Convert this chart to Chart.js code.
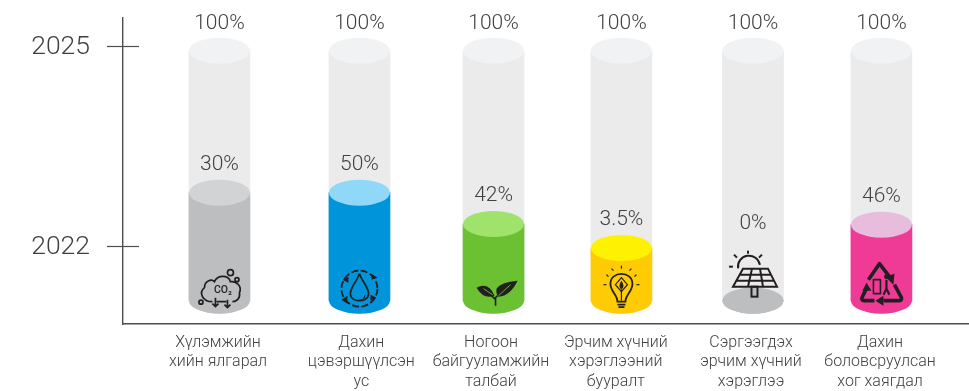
<!DOCTYPE html>
<html>
<head>
<meta charset="utf-8">
<style>
  html, body { margin: 0; padding: 0; background: #fff; }
  canvas { display: block; }
</style>
<script src="https://cdn.jsdelivr.net/npm/chart.js@4"></script>
</head>
<body>
<canvas id="chart" width="969" height="391"></canvas>
<script>
// Data
const categories = [
  ['Хүлэмжийн', 'хийн ялгарал'],
  ['Дахин', 'цэвэршүүлсэн', 'ус'],
  ['Ногоон', 'байгууламжийн', 'талбай'],
  ['Эрчим хүчний', 'хэрэглээний', 'бууралт'],
  ['Сэргээгдэх', 'эрчим хүчний', 'хэрэглээ'],
  ['Дахин', 'боловсруулсан', 'хог хаягдал']
];
const yearTicks = [2022, 2025];
const actualLabels = ['30%', '50%', '42%', '3.5%', '0%', '46%'];
const targetLabels = ['100%', '100%', '100%', '100%', '100%', '100%'];
// fill heights on the year axis (the drawing is not to scale with the percents)
const actualLevels = [2022.8, 2022.8, 2022.33, 2021.97, 2021.18, 2022.32];
const targetLevels = [2024.93, 2024.93, 2024.93, 2024.93, 2024.93, 2024.93];
const cylinderBase = 2021.18;
// columns are not evenly spaced in the original, x axis runs 0..6
const barSlots = [0.684, 1.677, 2.628, 3.535, 4.468, 5.379];
const labelSlots = [0.674, 1.69, 2.61, 3.495, 4.454, 5.369];

const sideColors = ['#bcbec0', '#0095da', '#6cc133', '#ffcb05', '#bcbec0', '#ef3a96'];
const capColors = ['#d1d3d4', '#8fd8f8', '#a0e36c', '#fff200', '#bcbec0', '#e8bcdc'];
const trackSide = '#ebebec';
const trackCap = '#f1f2f3';
const axisColor = '#4d4d4f';
const textColor = '#414042';
const iconColor = '#231f20';
const capHeight = 13;

// Icons, drawn around (0,0) = middle of the cylinder base
function strokeCircle(ctx, x, y, r) {
  ctx.beginPath();
  ctx.arc(x, y, r, 0, Math.PI * 2);
  ctx.stroke();
}

function fillTriangle(ctx, t) {
  ctx.beginPath();
  ctx.moveTo(t[0], t[1]);
  ctx.lineTo(t[2], t[3]);
  ctx.lineTo(t[4], t[5]);
  ctx.fill();
}

function arrowDown(ctx, x, y1, y2) {
  ctx.beginPath();
  ctx.moveTo(x, y1);
  ctx.lineTo(x, y2);
  ctx.moveTo(x - 3, y2 - 3);
  ctx.lineTo(x, y2);
  ctx.lineTo(x + 3, y2 - 3);
  ctx.stroke();
}

function drawCo2(ctx) {
  ctx.lineWidth = 1.7;
  ctx.beginPath();
  ctx.moveTo(-7, 1);
  ctx.bezierCurveTo(-17, 1, -21, -8, -15, -13);
  ctx.bezierCurveTo(-15, -20, -8, -22, -5, -19);
  ctx.bezierCurveTo(-2, -26, 9, -26, 11, -19);
  ctx.bezierCurveTo(17, -20, 23, -14, 20, -8);
  ctx.bezierCurveTo(21, -2, 17, 1, 13, 1);
  ctx.moveTo(-3, 1);
  ctx.lineTo(7, 1);
  ctx.stroke();
  arrowDown(ctx, -4, -3, 6);
  arrowDown(ctx, 8, -1, 7);
  strokeCircle(ctx, 11, -28, 3);
  strokeCircle(ctx, 17.5, -21, 2);
  strokeCircle(ctx, -18.5, 1.5, 2);
  ctx.fillStyle = iconColor;
  ctx.font = '500 10.5px Roboto';
  ctx.textAlign = 'center';
  ctx.textBaseline = 'middle';
  ctx.fillText('CO₂', 3.5, -10);
}

function drawWater(ctx) {
  ctx.lineWidth = 1.8;
  ctx.setLineDash([7, 2.5]);
  strokeCircle(ctx, 0, -12, 18);
  ctx.setLineDash([]);
  ctx.fillStyle = iconColor;
  [[-17, -21, -11, -24, -11, -18], [12, -27, 18, -23, 12, -21], [17, -3, 11, 0, 11, -6], [-12, 3, -18, -1, -12, -5]].forEach((t) => fillTriangle(ctx, t));
  ctx.beginPath();
  ctx.moveTo(0, -27);
  ctx.bezierCurveTo(-3, -18, -10, -13, -9, -6);
  ctx.bezierCurveTo(-8, 2, 8, 2, 9, -6);
  ctx.bezierCurveTo(10, -13, 3, -18, 0, -27);
  ctx.stroke();
  ctx.lineWidth = 1.2;
  ctx.beginPath();
  ctx.arc(0, -6, 5.5, 0.1, 1.5);
  ctx.stroke();
}

function drawLeaves(ctx) {
  ctx.fillStyle = iconColor;
  ctx.beginPath();
  ctx.moveTo(-17, -13);
  ctx.quadraticCurveTo(-5, -19, 1, -5);
  ctx.quadraticCurveTo(-10, -1, -17, -13);
  ctx.fill();
  ctx.beginPath();
  ctx.moveTo(24, -20);
  ctx.quadraticCurveTo(8, -19, 3, -12);
  ctx.quadraticCurveTo(2, -7, 5, -4);
  ctx.quadraticCurveTo(17, -5, 24, -20);
  ctx.fill();
  ctx.lineWidth = 1.6;
  ctx.beginPath();
  ctx.moveTo(2, 5);
  ctx.lineTo(2, -4);
  ctx.moveTo(2, -1);
  ctx.lineTo(-3, -6);
  ctx.moveTo(2, -3);
  ctx.lineTo(4, -5);
  ctx.stroke();
  // veins cut through the leaves
  ctx.strokeStyle = sideColors[2];
  ctx.lineWidth = 0.9;
  ctx.beginPath();
  ctx.moveTo(-1, -6);
  ctx.lineTo(-10, -12);
  ctx.moveTo(5, -5);
  ctx.lineTo(17, -16);
  ctx.stroke();
}

function drawBulb(ctx) {
  ctx.lineWidth = 1.8;
  ctx.beginPath();
  ctx.moveTo(-4, 1);
  ctx.bezierCurveTo(-4, -6, -11, -9, -11, -17);
  ctx.bezierCurveTo(-11, -30, 11, -30, 11, -17);
  ctx.bezierCurveTo(11, -9, 4, -6, 4, 1);
  ctx.closePath();
  ctx.stroke();
  ctx.beginPath();
  ctx.moveTo(-4, 4);
  ctx.lineTo(4, 4);
  ctx.moveTo(-3, 6.5);
  ctx.lineTo(3, 6.5);
  ctx.stroke();
  ctx.lineWidth = 1.2;
  ctx.beginPath();
  ctx.moveTo(0, -23);
  ctx.lineTo(-6, -16);
  ctx.lineTo(0, -9);
  ctx.lineTo(6, -16);
  ctx.closePath();
  ctx.stroke();
  ctx.fillStyle = iconColor;
  ctx.beginPath();
  ctx.moveTo(0, -20);
  ctx.quadraticCurveTo(4, -15, 0, -11);
  ctx.quadraticCurveTo(-4, -15, 0, -20);
  ctx.fill();
  ctx.beginPath();
  ctx.moveTo(0, -11);
  ctx.lineTo(0, 0);
  ctx.stroke();
  ctx.lineWidth = 1.2;
  [[0, -32, 0, -35], [-8, -30, -10, -32], [8, -30, 10, -32], [-13, -24, -15, -26], [13, -24, 15, -26], [-15, -16, -18, -16], [15, -16, 18, -16]].forEach((r) => {
    ctx.beginPath();
    ctx.moveTo(r[0], r[1]);
    ctx.lineTo(r[2], r[3]);
    ctx.stroke();
  });
}

function drawSolar(ctx) {
  ctx.lineWidth = 2;
  ctx.beginPath();
  ctx.arc(-4, -34, 11, Math.PI * 0.95, Math.PI * 1.95);
  ctx.stroke();
  [[-5, -50, -5, -47], [-19, -46, -16, -43], [9, -46, 6, -43], [-24, -34, -20, -34]].forEach((r) => {
    ctx.beginPath();
    ctx.moveTo(r[0], r[1]);
    ctx.lineTo(r[2], r[3]);
    ctx.stroke();
  });
  // panel
  ctx.beginPath();
  ctx.moveTo(-10, -32);
  ctx.lineTo(15, -32);
  ctx.lineTo(24, -14);
  ctx.lineTo(-20, -14);
  ctx.closePath();
  ctx.moveTo(-13, -26);
  ctx.lineTo(18, -26);
  ctx.moveTo(-16, -20);
  ctx.lineTo(21, -20);
  ctx.moveTo(-1, -32);
  ctx.lineTo(-5, -14);
  ctx.moveTo(7, -32);
  ctx.lineTo(10, -14);
  ctx.stroke();
  ctx.strokeRect(-1.5, -14, 6, 10);
}

function drawRecycle(ctx) {
  ctx.lineWidth = 3.6;
  ctx.lineJoin = 'round';
  ctx.beginPath();
  ctx.moveTo(-13, -21);
  ctx.lineTo(-2, -37);
  ctx.lineTo(8, -24);
  ctx.moveTo(13, -16);
  ctx.lineTo(20, -3);
  ctx.quadraticCurveTo(21, 0, 17, 0);
  ctx.lineTo(2, 0);
  ctx.moveTo(-7, 0);
  ctx.lineTo(-17, 0);
  ctx.quadraticCurveTo(-21, 0, -19, -4);
  ctx.lineTo(-15, -12);
  ctx.stroke();
  ctx.fillStyle = iconColor;
  [[12, -16, 4, -24, 13, -27], [2, 5, 2, -5, -6, 0], [-15, -18, -10, -10, -19, -10]].forEach((t) => fillTriangle(ctx, t));
  ctx.lineWidth = 1.6;
  ctx.strokeRect(-8, -21, 7, 14);
  ctx.beginPath();
  ctx.arc(5, -24, 2.4, 0, Math.PI * 2);
  ctx.fill();
  ctx.lineWidth = 2.2;
  ctx.beginPath();
  ctx.moveTo(5, -21);
  ctx.lineTo(5, -12);
  ctx.lineTo(2, -6);
  ctx.moveTo(5, -12);
  ctx.lineTo(8, -6);
  ctx.stroke();
}

const iconDrawers = [drawCo2, drawWater, drawLeaves, drawBulb, drawSolar, drawRecycle];

// Caps of the cylinders, sit on top of the library's bars
const cylinderCaps = {
  id: 'cylinderCaps',
  afterDatasetDraw(chart, args) {
    const ctx = chart.ctx;
    const ds = chart.data.datasets[args.index];
    args.meta.data.forEach((bar, i) => {
      ctx.save();
      ctx.fillStyle = ds.backgroundColor[i];
      ctx.beginPath();
      ctx.ellipse(bar.x, bar.base, bar.width / 2, capHeight, 0, 0, Math.PI * 2);
      ctx.fill();
      ctx.fillStyle = ds.capColor[i];
      ctx.beginPath();
      ctx.ellipse(bar.x, bar.y, bar.width / 2, capHeight, 0, 0, Math.PI * 2);
      ctx.fill();
      ctx.restore();
    });
  },
  afterDraw(chart) {
    const ctx = chart.ctx;
    // year ticks cross the axis
    const yScale = chart.scales.y;
    ctx.save();
    ctx.strokeStyle = axisColor;
    ctx.lineWidth = 1.2;
    yearTicks.forEach((year) => {
      const py = Math.round(yScale.getPixelForValue(year)) + 0.5;
      ctx.beginPath();
      ctx.moveTo(chart.chartArea.left - 16, py);
      ctx.lineTo(chart.chartArea.left + 16, py);
      ctx.stroke();
    });
    // percent labels above each cap
    ctx.fillStyle = textColor;
    ctx.font = '300 21px Roboto';
    ctx.textAlign = 'center';
    ctx.textBaseline = 'middle';
    chart.getDatasetMeta(0).data.forEach((bar, i) => {
      ctx.fillText(targetLabels[i], bar.x, bar.y - 27);
    });
    chart.getDatasetMeta(1).data.forEach((bar, i) => {
      // the 0% label has to clear the solar panel icon
      const lift = actualLabels[i] === '0%' ? 77 : 28;
      ctx.fillText(actualLabels[i], bar.x, bar.y - lift);
    });
    // icons
    chart.getDatasetMeta(1).data.forEach((bar, i) => {
      ctx.save();
      ctx.translate(bar.x, bar.base);
      ctx.strokeStyle = iconColor;
      iconDrawers[i](ctx);
      ctx.restore();
    });
    ctx.restore();
  }
};

new Chart(document.getElementById('chart'), {
  type: 'bar',
  data: {
    datasets: [
      {
        data: barSlots.map((x, i) => ({ x: x, y: targetLevels[i] })),
        backgroundColor: barSlots.map(() => trackSide),
        capColor: barSlots.map(() => trackCap),
        base: cylinderBase,
        barThickness: 61,
        order: 2
      },
      {
        data: barSlots.map((x, i) => ({ x: x, y: actualLevels[i] })),
        backgroundColor: sideColors,
        capColor: capColors,
        base: cylinderBase,
        barThickness: 61,
        order: 1
      }
    ]
  },
  options: {
    responsive: false,
    animation: false,
    layout: { padding: { top: 18, right: 0, bottom: 0, left: 0 } },
    plugins: { legend: { display: false }, tooltip: { enabled: false } },
    datasets: { bar: { grouped: false, borderWidth: 0 } },
    scales: {
      x: {
        type: 'linear',
        offset: false,
        min: 0,
        max: 6,
        afterBuildTicks(scale) {
          scale.ticks = labelSlots.map((v) => ({ value: v }));
        },
        afterFit(scale) {
          scale.height = 67;
          scale.paddingLeft = 0;
          scale.paddingRight = 0;
        },
        grid: { display: false, drawTicks: false },
        border: { display: true, color: axisColor, width: 1.4 },
        ticks: {
          autoSkip: false,
          maxRotation: 0,
          padding: 9,
          color: textColor,
          font: { family: 'Roboto', weight: 300, size: 16, lineHeight: 1.22 },
          callback: (value, index) => categories[index]
        }
      },
      y: {
        type: 'linear',
        min: 2020.83,
        max: 2025.42,
        afterBuildTicks(scale) {
          scale.ticks = yearTicks.map((v) => ({ value: v }));
        },
        afterFit(scale) {
          scale.width = 123;
          scale.paddingTop = 0;
          scale.paddingBottom = 0;
        },
        grid: { display: false, drawTicks: false },
        border: { display: true, color: axisColor, width: 1.4 },
        ticks: {
          padding: 33,
          color: textColor,
          // empty first line + tiny line height nudges the year down a little
          font: { family: 'Roboto', weight: 300, size: 26.5, lineHeight: '3px' },
          callback: (value) => ['', String(value)]
        }
      }
    }
  },
  plugins: [cylinderCaps]
});
</script>
</body>
</html>
